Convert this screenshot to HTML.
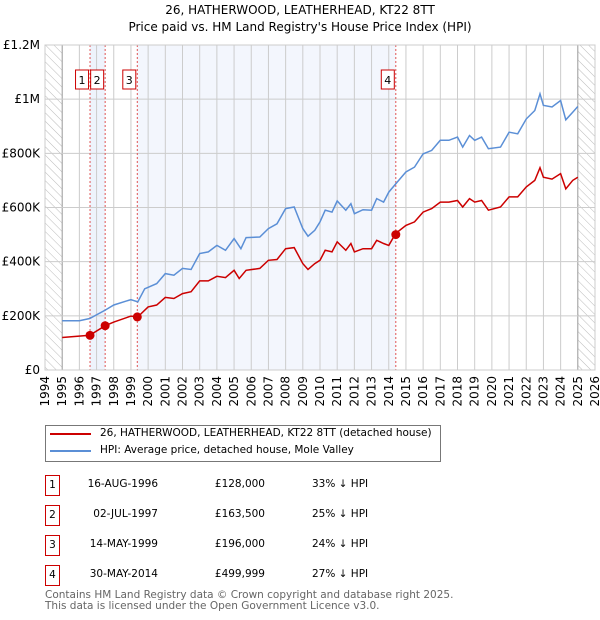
<!DOCTYPE html>
<html><head><meta charset="utf-8"><style>
body{margin:0;background:#fff;font-family:"DejaVu Sans","Liberation Sans",sans-serif;}
.t{position:absolute;font-size:10.5px;color:#000;white-space:nowrap}
</style></head><body>
<div style="position:relative;width:600px;height:620px;overflow:hidden">
<div class="t" style="left:0;width:600px;text-align:center;top:2px;font-size:12px;line-height:17px">26, HATHERWOOD, LEATHERHEAD, KT22 8TT<br>Price paid vs. HM Land Registry's House Price Index (HPI)</div>
<svg id="chart" width="600" height="420" style="position:absolute;left:0;top:0;font-family:'DejaVu Sans',sans-serif"></svg>
<div style="position:absolute;left:45px;top:425px;width:394px;height:35px;border:1px solid #777"></div>
<div style="position:absolute;left:50px;top:433px;width:41px;height:2px;background:#cc0000"></div>
<div class="t" style="left:100px;top:427px">26, HATHERWOOD, LEATHERHEAD, KT22 8TT (detached house)</div>
<div style="position:absolute;left:50px;top:450px;width:41px;height:2px;background:#5b8fd6"></div>
<div class="t" style="left:100px;top:444px">HPI: Average price, detached house, Mole Valley</div>
<div id="tbl"></div>
<div class="t" style="left:45px;top:590px;color:#666;line-height:11px">Contains HM Land Registry data © Crown copyright and database right 2025.<br>This data is licensed under the Open Government Licence v3.0.</div>
</div>
<script>
const hpiYears=[1995,1996,1996.6,1997.5,1998,1999,1999.4,1999.8,2000.5,2001,2001.5,2002,2002.5,2003,2003.5,2004,2004.5,2005,2005.4,2005.7,2006.5,2007,2007.5,2008,2008.5,2009,2009.3,2009.7,2010,2010.3,2010.7,2011,2011.5,2011.8,2012,2012.5,2013,2013.3,2013.7,2014,2014.5,2015,2015.5,2016,2016.5,2017,2017.5,2018,2018.3,2018.7,2019,2019.4,2019.8,2020.5,2021,2021.5,2022,2022.5,2022.8,2023,2023.5,2024,2024.3,2024.7,2025];
const hpiValues=[182,182,190,221,240,260,252,300,319,356,350,375,371,430,436,460,442,485,448,489,491,522,540,596,602,522,494,516,547,590,583,624,590,614,577,592,590,633,620,657,694,731,749,798,811,848,848,860,823,866,848,860,817,823,878,872,927,958,1020,977,971,995,924,952,973];
const priceYears=[1995,1996.6,1997.5,1998,1999,1999.4,2000,2000.5,2001,2001.5,2002,2002.5,2003,2003.5,2004,2004.5,2005,2005.3,2005.7,2006.5,2007,2007.5,2008,2008.5,2009,2009.3,2009.7,2010,2010.3,2010.7,2011,2011.5,2011.8,2012,2012.5,2013,2013.3,2013.7,2014,2014.4,2015,2015.5,2016,2016.5,2017,2017.5,2018,2018.3,2018.7,2019,2019.4,2019.8,2020.5,2021,2021.5,2022,2022.5,2022.8,2023,2023.5,2024,2024.3,2024.7,2025];
const priceValues=[120,128,163.5,177,199,196,233,240,268,264,282,289,329,329,346,341,368,338,368,375,405,408,448,452,393,371,393,405,442,436,473,442,467,436,448,448,479,467,460,504,534,547,583,596,620,620,626,602,633,620,626,590,602,639,639,676,700,747,712,705,725,669,700,712];
const saleLabels=["1","2","3","4"];
const saleYears=[1996.62,1997.5,1999.37,2014.41];
const saleValues=[128,163.5,196,499.999];
const saleDates=["16-AUG-1996","02-JUL-1997","14-MAY-1999","30-MAY-2014"];
const salePrices=["£128,000","£163,500","£196,000","£499,999"];
const saleDiffs=["33% ↓ HPI","25% ↓ HPI","24% ↓ HPI","27% ↓ HPI"];
const yTicks=[0,200,400,600,800,1000,1200];
const yTickLabels=["£0","£200K","£400K","£600K","£800K","£1M","£1.2M"];

const X0=45,X1=595,Y0=370,Y1=45;
const x=y=>X0+(y-1994)*(X1-X0)/32;
const yv=v=>Y0-v*(Y0-Y1)/1200;
const svg=document.getElementById('chart');
const NS='http://www.w3.org/2000/svg';
function mk(tag,at,parent){const e=document.createElementNS(NS,tag);for(const k in at)e.setAttribute(k,at[k]);(parent||svg).appendChild(e);return e;}
const defs=mk('defs',{});
const pat=mk('pattern',{id:'hatch',width:6,height:6,patternUnits:'userSpaceOnUse',patternTransform:'rotate(-45)'},defs);
mk('line',{x1:0,y1:0,x2:0,y2:6,stroke:'#bbb','stroke-width':1},pat);
let e;
e=mk('rect',{x:X0,y:Y1,width:x(1995)-X0,height:Y0-Y1,fill:'url(#hatch)'});

e=mk('rect',{x:x(2025),y:Y1,width:X1-x(2025),height:Y0-Y1,fill:'url(#hatch)'});

e=mk('rect',{x:x(saleYears[0]),y:Y1,width:x(saleYears[1])-x(saleYears[0]),height:Y0-Y1,fill:'#eef3fc'});

e=mk('rect',{x:x(saleYears[2]),y:Y1,width:x(saleYears[3])-x(saleYears[2]),height:Y0-Y1,fill:'#f3f6fd'});

for(let yr=1994;yr<=2026;yr++){
 e=mk('line',{x1:x(yr),x2:x(yr),y1:Y1,y2:Y0,stroke:(yr==1995||yr==2025)?'#999':'#ccc','stroke-width':1});
 
 e=mk('text',{x:0,y:0,transform:`translate(${x(yr)+4},376) rotate(-90)`,'text-anchor':'end','font-size':12,fill:'#000'});
 e.textContent=yr;
}
yTicks.forEach((v,i)=>{
 e=mk('line',{x1:X0,x2:X1,y1:yv(v),y2:yv(v),stroke:'#ccc','stroke-width':1});
 
 e=mk('text',{x:X0-5,y:yv(v)+4,'text-anchor':'end','font-size':12,fill:'#000'});
 e.textContent=yTickLabels[i];
});
saleYears.forEach((s,i)=>{
 e=mk('line',{x1:x(s),x2:x(s),y1:Y1,y2:Y0,stroke:'#e05555','stroke-width':1,'stroke-dasharray':'2,2'});
 
});
e=mk('path',{d:hpiYears.map((t,i)=>(i?'L':'M')+x(t).toFixed(1)+','+yv(hpiValues[i]).toFixed(1)).join(''),fill:'none',stroke:'#5b8fd6','stroke-width':1.5});

e=mk('path',{d:priceYears.map((t,i)=>(i?'L':'M')+x(t).toFixed(1)+','+yv(priceValues[i]).toFixed(1)).join(''),fill:'none',stroke:'#cc0000','stroke-width':1.5});

saleYears.forEach((s,i)=>{
 e=mk('circle',{cx:x(s),cy:yv(saleValues[i]),r:4.5,fill:'#cc0000'});
 
 const bx=x(s)-14.5;
 e=mk('rect',{x:bx,y:70,width:13,height:19,fill:'#fff',stroke:'#cc0000','stroke-width':1});
 
 e=mk('text',{x:bx+6.5,y:84,'text-anchor':'middle','font-size':11,fill:'#000'});
 e.textContent=saleLabels[i];
});
e=mk('rect',{x:X0,y:Y1,width:X1-X0,height:Y0-Y1,fill:'none',stroke:'#ccc'});


const tbl=document.getElementById('tbl');
saleLabels.forEach((l,i)=>{
 const top=475+i*30;
 const b=document.createElement('div');
 
 
 b.style.cssText=`position:absolute;left:45px;top:${top}px;width:13px;height:19px;border:1px solid #cc0000;font-size:10.5px;text-align:center;line-height:19px`;
 b.textContent=l;tbl.appendChild(b);
 const cells=[[saleDates[i],158,'right'],[salePrices[i],265,'right'],[saleDiffs[i],312,'left']];
 cells.forEach((c,j)=>{
  const d=document.createElement('div');
  
  
  d.className='t';
  d.style.top=(top+3)+'px';
  if(c[2]=='right'){d.style.right=(600-c[1])+'px';}else{d.style.left=c[1]+'px';}
  d.textContent=c[0];tbl.appendChild(d);
 });
});
</script>
</body></html>
